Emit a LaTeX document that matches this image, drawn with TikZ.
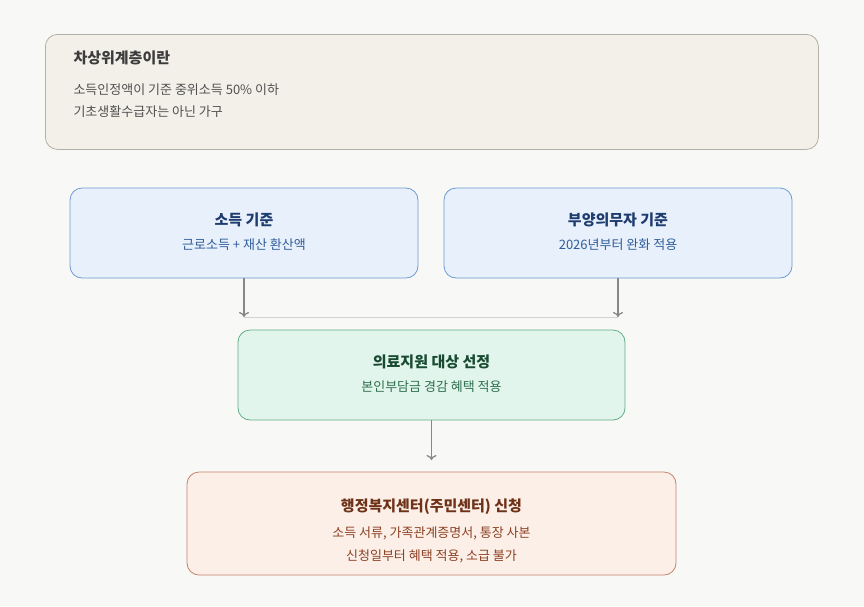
\documentclass[tikz,border=0pt]{standalone}
\usepackage{fontspec}
\setmainfont{Noto Sans CJK KR}
\usetikzlibrary{arrows.meta}
\definecolor{bg}{HTML}{F8F8F6}
\definecolor{arrc}{HTML}{888888}
\definecolor{joinc}{HTML}{D2D2CE}
\definecolor{topd}{HTML}{B4B0A6}\definecolor{topf}{HTML}{F2F0E9}
\definecolor{topt}{HTML}{3C3C3C}\definecolor{tops}{HTML}{505050}
\definecolor{bld}{HTML}{6C9BD1}\definecolor{blf}{HTML}{E8F0FB}
\definecolor{blt}{HTML}{1E3C6E}\definecolor{bls}{HTML}{2E5D9A}
\definecolor{grd}{HTML}{5FAE86}\definecolor{grf}{HTML}{E2F5EC}
\definecolor{grt}{HTML}{194B32}\definecolor{grs}{HTML}{2D6E4E}
\definecolor{ord}{HTML}{C7826A}\definecolor{orf}{HTML}{FCEFE8}
\definecolor{ort}{HTML}{6E3219}\definecolor{ors}{HTML}{8C4123}
\begin{document}
\begin{tikzpicture}[x=1pt,y=-1pt,
  box/.style={draw,rounded corners=12pt,line width=0.8pt},
  ttl/.style={font=\fontsize{15}{18}\selectfont\bfseries},
  sub/.style={font=\fontsize{13}{16}\selectfont},
  arr/.style={draw=arrc,line width=1.3pt,-{To[length=5pt,width=10pt]}}]
\fill[bg] (0,0) rectangle (864,606);
\useasboundingbox (0,0) rectangle (864,606);
% top
\node[box,draw=topd,fill=topf,minimum width=773pt,minimum height=115pt,anchor=north west] (top) at (45,34) {};
\node[ttl,anchor=west,text=topt] (tt) at (70,58) {차상위계층이란};
\node[sub,anchor=west,text=tops] (t1) at (70,90) {소득인정액이 기준 중위소득 50\% 이하};
\node[sub,anchor=west,text=tops] (t2) at (70,112) {기초생활수급자는 아닌 가구};
% left/right
\node[box,draw=bld,fill=blf,minimum width=348pt,minimum height=90pt] (L) at (244,233) {};
\node[ttl,text=blt] (Lt) at (244,220) {소득 기준};
\node[sub,text=bls] (Ls) at (244,245) {근로소득 + 재산 환산액};
\node[box,draw=bld,fill=blf,minimum width=348pt,minimum height=90pt] (R) at (618,233) {};
\node[ttl,text=blt] (Rt) at (618,220) {부양의무자 기준};
\node[sub,text=bls] (Rs) at (618,245) {2026년부터 완화 적용};
% join
\coordinate (jl) at (244,317);
\coordinate (jr) at (618,317);
\draw[draw=joinc,line width=0.8pt] (jl) -- (jr);
\draw[arr] (L.south) -- (jl);
\draw[arr] (R.south) -- (jr);
% middle
\node[box,draw=grd,fill=grf,minimum width=387pt,minimum height=90pt] (M) at (431.5,375) {};
\node[ttl,text=grt] (Mt) at (431.5,362) {의료지원 대상 선정};
\node[sub,text=grs] (Ms) at (431.5,387) {본인부담금 경감 혜택 적용};
\coordinate (mb) at (431.5,460);
\draw[arr] (M.south) -- (mb);
% bottom
\node[box,draw=ord,fill=orf,minimum width=489pt,minimum height=103pt] (B) at (431.5,523.5) {};
\node[ttl,text=ort] (Bt) at (431.5,507) {행정복지센터(주민센터) 신청};
\node[sub,text=ors] (B1) at (431.5,533) {소득 서류, 가족관계증명서, 통장 사본};
\node[sub,text=ors] (B2) at (431.5,556) {신청일부터 혜택 적용, 소급 불가};
\end{tikzpicture}
\end{document}
